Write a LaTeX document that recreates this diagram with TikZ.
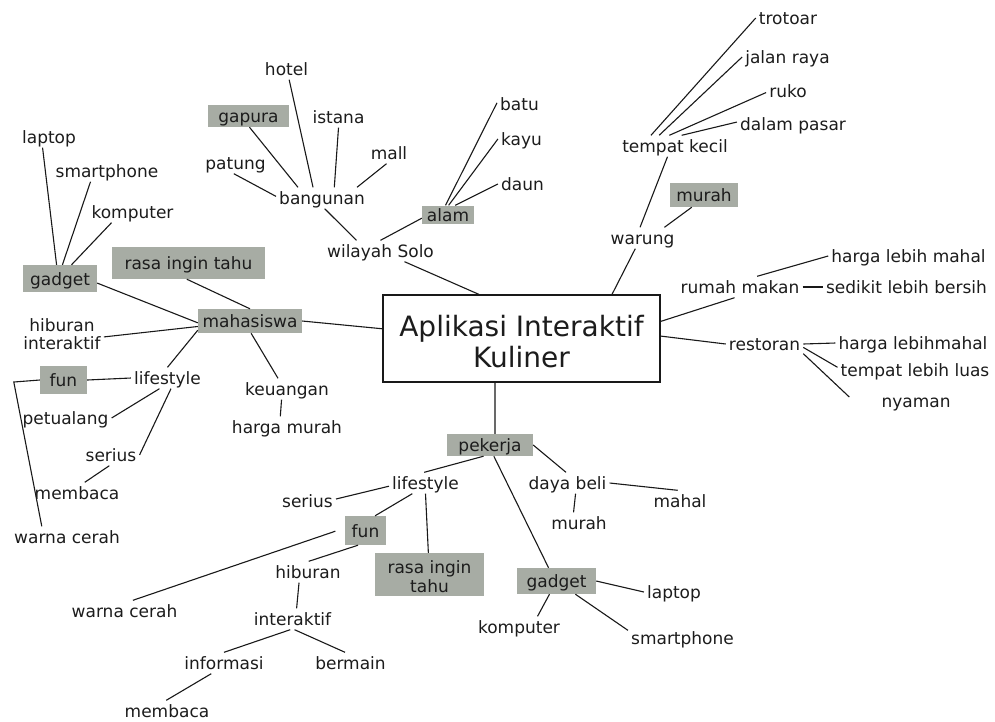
\documentclass[tikz,border=0pt]{standalone}
\usepackage{fontspec}
\setmainfont{DejaVu Sans}
\definecolor{boxgray}{RGB}{167,172,164}
\definecolor{ink}{RGB}{28,28,28}
\definecolor{linecol}{RGB}{25,25,25}
\begin{document}
\begin{tikzpicture}[x=1pt,y=-1pt,
  lbl/.style={font=\fontsize{17}{20}\selectfont, text=ink, inner xsep=3pt, inner ysep=2pt, text height=15pt, text depth=2pt},
  lbltwo/.style={font=\fontsize{17}{18}\selectfont, text=ink, inner xsep=3pt, inner ysep=2pt, align=center},
  gbox/.style={font=\fontsize{17}{20}\selectfont, text=ink, fill=boxgray, inner sep=0pt, text height=15pt, text depth=2pt},
  gboxtwo/.style={font=\fontsize{17}{18.5}\selectfont, text=ink, fill=boxgray, inner sep=0pt, align=center},
  link/.style={draw=linecol, line width=1.1pt},
]
\fill[white] (0,0) rectangle (995,721);
\useasboundingbox (0,0) rectangle (995,721);

% central topic
\node[draw=linecol, line width=1.3pt, fill=white, minimum width=277pt, minimum height=87pt,
      inner sep=0pt, align=center, text=ink, font=\fontsize{28}{31}\selectfont]
      (root) at (521.5,338.5) {\rule{0pt}{28pt}Aplikasi Interaktif\\Kuliner};

% wilayah Solo branch
\node[lbl] (hotel) at (286.5,69) {hotel};
\node[gbox, minimum width=81pt, minimum height=22pt] (gapura) at (248.5,116) {gapura};
\node[lbl] (istana) at (338.5,117) {istana};
\node[lbl] (mall) at (389,153) {mall};
\node[lbl] (patung) at (235.5,163) {patung};
\node[lbl] (bangunan) at (322,198) {bangunan};
\node[gbox, minimum width=52pt, minimum height=18pt] (alam) at (448,214.5) {alam};
\node[lbl] (batu) at (519.5,104) {batu};
\node[lbl] (kayu) at (521.5,139) {kayu};
\node[lbl] (daun) at (522.5,184) {daun};
\node[lbl] (wilayah) at (380.5,251) {wilayah Solo};

% warung branch
\node[lbl] (trotoar) at (788,18) {trotoar};
\node[lbl] (jalanraya) at (787.5,57) {jalan raya};
\node[lbl] (ruko) at (788,91) {ruko};
\node[lbl] (dalampasar) at (793,124) {dalam pasar};
\node[lbl] (tempatkecil) at (675,146) {tempat kecil};
\node[gbox, minimum width=68pt, minimum height=24pt] (murahA) at (704,195) {murah};
\node[lbl] (warung) at (642.5,238) {warung};

% rumah makan / restoran branch
\node[lbl] (rumahmakan) at (740,287) {rumah makan};
\node[lbl] (hargaA) at (908.5,256) {harga lebih mahal};
\node[lbl] (sedikit) at (906.5,287) {sedikit lebih bersih};
\node[lbl] (restoran) at (764.5,344) {restoran};
\node[lbl] (hargaB) at (913,343) {harga lebihmahal};
\node[lbl] (tempatluas) at (915,370) {tempat lebih luas};
\node[lbl] (nyaman) at (916,401) {nyaman};

% mahasiswa branch
\node[gbox, minimum width=104pt, minimum height=24pt] (mahasiswa) at (250,321) {mahasiswa};
\node[gbox, minimum width=153pt, minimum height=32pt] (rasaA) at (188.5,263) {rasa ingin tahu};
\node[gbox, minimum width=74pt, minimum height=27pt] (gadgetA) at (60,278.5) {gadget};
\node[lbl] (laptopA) at (49,137) {laptop};
\node[lbl] (smartA) at (107,171) {smartphone};
\node[lbl] (kompA) at (132.5,212) {komputer};
\node[lbltwo] (hibint) at (62,334) {hiburan\\interaktif};
\node[lbl] (lifestyleA) at (167.5,378) {lifestyle};
\node[gbox, minimum width=47pt, minimum height=28pt] (funA) at (63.5,380) {fun};
\node[lbl] (petualang) at (65.5,418) {petualang};
\node[lbl] (seriusA) at (111,455) {serius};
\node[lbl] (membacaA) at (77,493) {membaca};
\node[lbl] (warnaA) at (67,537) {warna cerah};
\node[lbl] (keuangan) at (287,389) {keuangan};
\node[lbl] (hargamurah) at (287,427) {harga murah};

% pekerja branch
\node[gbox, minimum width=86pt, minimum height=22pt] (pekerja) at (490,445) {pekerja};
\node[lbl] (lifestyleB) at (425.5,483) {lifestyle};
\node[lbl] (seriusB) at (307.5,501) {serius};
\node[gbox, minimum width=41pt, minimum height=29pt] (funB) at (365.5,530.5) {fun};
\node[gboxtwo, minimum width=109pt, minimum height=43pt] (rasaB) at (429.5,574.5) {\rule{0pt}{17pt}rasa ingin\\tahu};
\node[lbl] (hiburanB) at (308,572) {hiburan};
\node[lbl] (warnaB) at (124.5,611) {warna cerah};
\node[lbl] (interaktifB) at (292.5,619) {interaktif};
\node[lbl] (informasi) at (224,663) {informasi};
\node[lbl] (bermain) at (350.5,663) {bermain};
\node[lbl] (membacaB) at (167,711) {membaca};
\node[lbl] (dayabeli) at (567.5,483) {daya beli};
\node[lbl] (murahB) at (579,523) {murah};
\node[lbl] (mahal) at (680,501) {mahal};
\node[gbox, minimum width=79pt, minimum height=26pt] (gadgetB) at (556.5,581) {gadget};
\node[lbl] (laptopB) at (674,592) {laptop};
\node[lbl] (kompB) at (519,627) {komputer};
\node[lbl] (smartB) at (682.5,638) {smartphone};

% connectors: wilayah Solo
\draw[link] (hotel.-76) -- (bangunan.130);
\draw[link] (istana.south) -- (bangunan.41);
\draw[link] (mall.-103) -- (bangunan.17);
\draw[link] (gapura.-85) -- (bangunan.156);
\draw[link] (patung.-99) -- (bangunan.178);
\draw[link] (bangunan.-76) -- (wilayah.156);
\draw[link] (alam.188) -- (wilayah.north);
\draw[link] (wilayah.-24) -- (root.134);
\draw[link] (batu.177) -- (alam.105);
\draw[link] (kayu.west) -- (alam.86);
\draw[link] (daun.west) -- (alam.52);

% connectors: warung
\draw[link] (trotoar.west) -- (tempatkecil.156);
\draw[link] (jalanraya.west) -- (tempatkecil.146);
\draw[link] (ruko.-176) -- (tempatkecil.118);
\draw[link] (dalampasar.178) -- (tempatkecil.58);
\draw[link] (tempatkecil.-125) -- (warung.103);
\draw[link] (murahA.-135) -- (warung.26);
\draw[link] (warung.-124) -- (root.26);

% connectors: rumah makan / restoran
\draw[link] (root.7.4) -- (rumahmakan.-117);
\draw[link] (root.1) -- (restoran.west);
\draw[link] (rumahmakan.32) -- (hargaA.west);
\draw[link] (rumahmakan.east) -- (sedikit.west);
\draw[link] (restoran.east) -- (hargaB.west);
\draw[link] (restoran.-5) -- (tempatluas.178);
\draw[link] (restoran.-14) -- ([shift={(-29,-4)}]nyaman.west);

% connectors: mahasiswa
\draw[link] (mahasiswa.east) -- (root.176);
\draw[link] (laptopA.-121) -- (gadgetA.104);
\draw[link] (smartA.-147) -- (gadgetA.80);
\draw[link] (kompA.-153) -- (gadgetA.50);
\draw[link] (gadgetA.-7) -- (mahasiswa.182);
\draw[link] (rasaA.-96) -- (mahasiswa.north);
\draw[link] (hibint.-4) -- (mahasiswa.186);
\draw[link] (mahasiswa.190) -- (lifestyleA.north);
\draw[link] (mahasiswa.-85) -- (keuangan.130);
\draw[link] (keuangan.-117) -- (hargamurah.122);
\draw[link] (lifestyleA.west) -- (funA.east);
\draw[link] (lifestyleA.-127) -- (petualang.east);
\draw[link] (lifestyleA.-72) -- (seriusA.east);
\draw[link] (seriusA.-99) -- (membacaA.54);
\draw[link] (funA.west) -- ++(-26,2) -- (warnaA.157);

% connectors: pekerja
\draw[link] (root.-121.6) -- (pekerja.66);
\draw[link] (pekerja.-120) -- (lifestyleB.97);
\draw[link] (lifestyleB.185) -- (seriusB.4);
\draw[link] (lifestyleB.-141) -- (funB.57);
\draw[link] (lifestyleB.south) -- (rasaB.93);
\draw[link, shorten <=10pt] (funB.173) -- (warnaB.52);
\draw[link] (funB.-117) -- (hiburanB.86);
\draw[link] (hiburanB.-130) -- (interaktifB.69);
\draw[link] (interaktifB.-102) -- (informasi.north);
\draw[link] (interaktifB.-79) -- (bermain.117);
\draw[link] (informasi.-140) -- (membacaB.94);
\draw[link] (pekerja.east) -- (dayabeli.98);
\draw[link] (dayabeli.-53) -- (murahB.117);
\draw[link] (dayabeli.east) -- (mahal.102);
\draw[link] (pekerja.-71) -- (gadgetB.121);
\draw[link] (gadgetB.east) -- (laptopB.west);
\draw[link] (gadgetB.-118) -- (kompB.30);
\draw[link] (gadgetB.-35) -- (smartB.172);
\end{tikzpicture}
\end{document}
